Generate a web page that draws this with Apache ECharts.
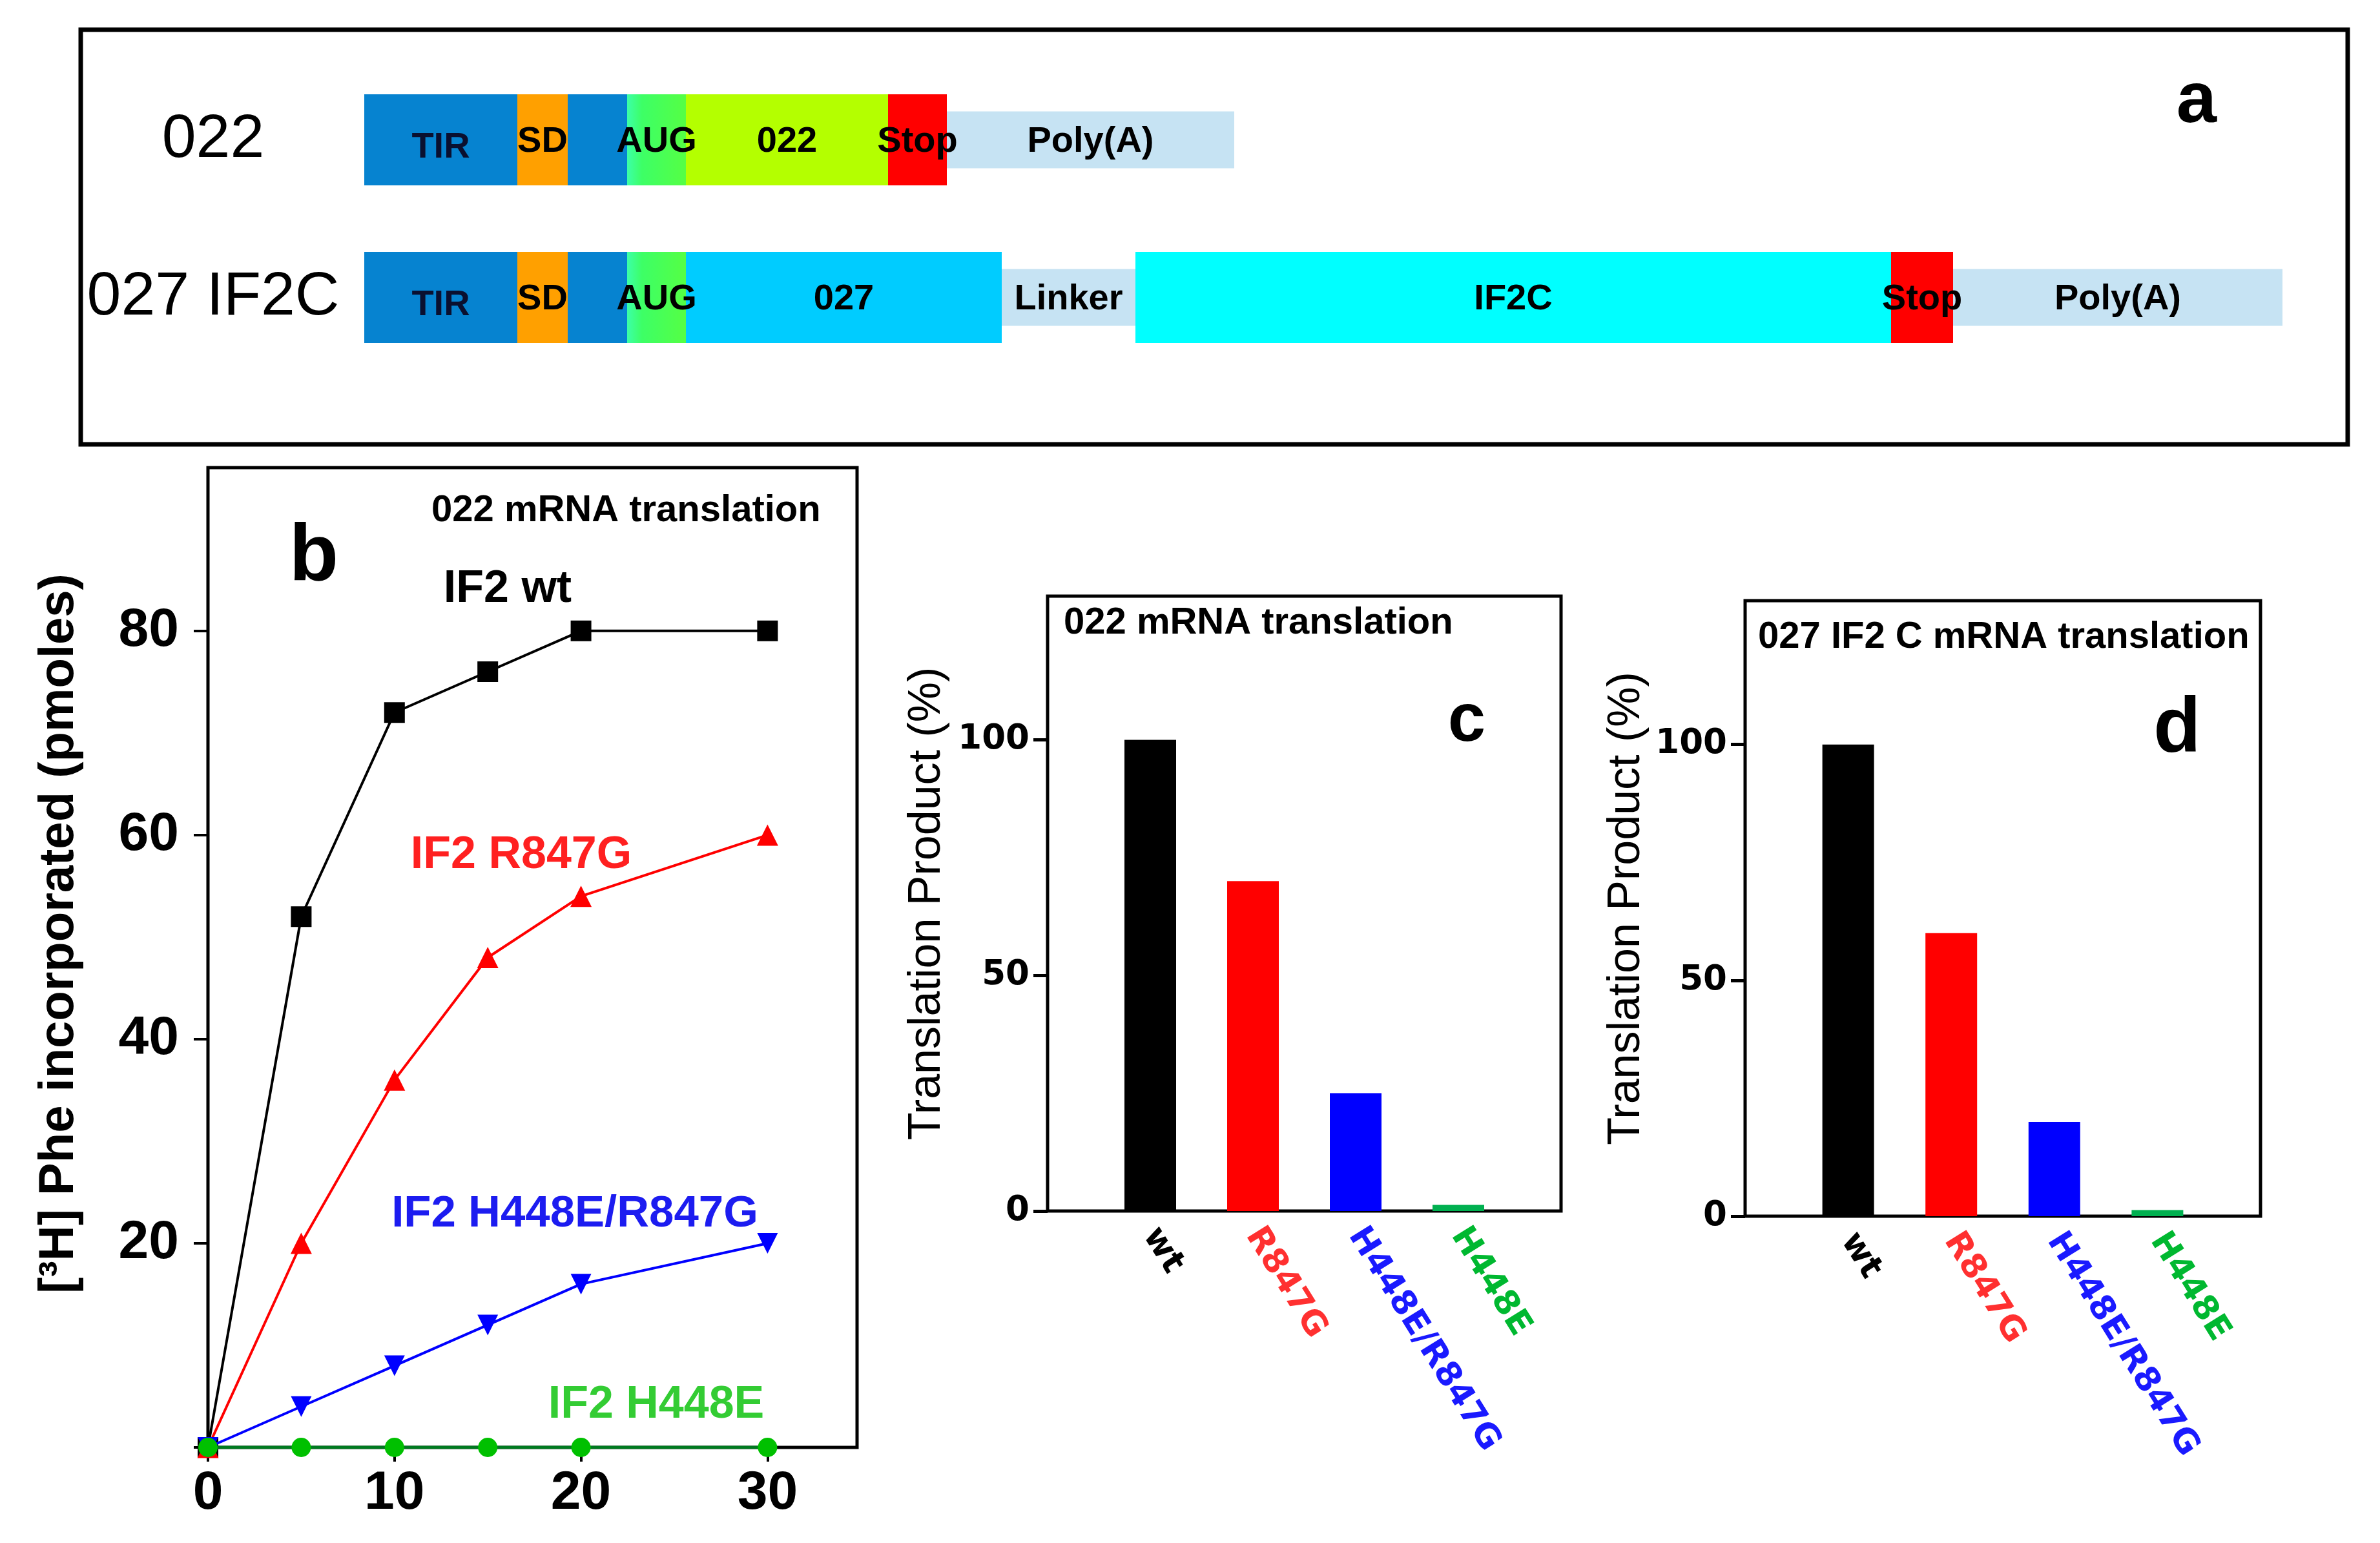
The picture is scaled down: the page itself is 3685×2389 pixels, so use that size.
<!DOCTYPE html>
<html><head><meta charset="utf-8">
<script src="https://cdn.jsdelivr.net/npm/echarts@6/dist/echarts.min.js"></script>
<style>html,body{margin:0;padding:0;background:#fff}#c{width:3685px;height:2389px}</style>
</head><body><div id="c"></div>
<script>
// ---------- Panel a: construct maps (relative segment lengths) ----------
const rowNames = ['022', '027 IF2C'];
const seg022Names = ['TIR', 'SD', '', 'AUG', '022', 'Stop', 'Poly(A)'];
const seg022Len = [237, 78, 92, 91, 313, 91, 445];
const seg027Names = ['TIR', 'SD', '', 'AUG', '027', 'Linker', 'IF2C', 'Stop', 'Poly(A)'];
const seg027Len = [237, 78, 92, 91, 489, 207, 1170, 96, 510];

// ---------- Panel b: time course ----------
const timeMin = [0, 5, 10, 15, 20, 30];
const pheWt = [0, 52, 72, 76, 80, 80];
const pheR847G = [0, 20, 36, 48, 54, 60];
const pheH448ER847G = [0, 4, 8, 12, 16, 20];
const pheH448E = [0, 0, 0, 0, 0, 0];
const bTicksX = [0, 10, 20, 30];
const bLabelsY = [20, 40, 60, 80];
const bTicksY = [0, 20, 40, 60, 80];

// ---------- Panels c, d: translation product ----------
const mutants = ['wt', 'R847G', 'H448E/R847G', 'H448E'];
const productC = [100, 70, 25, 1.3];
const productD = [100, 60, 20, 1.3];
const cdTicksY = [0, 50, 100];

const FONT = 'Liberation Sans, Arial, sans-serif';
const WIDE = 'DejaVu Sans, Verdana, sans-serif';

const segColors = {
  'TIR': '#0683D0', 'SD': '#FFA000', '': '#0683D0',
  'AUG': new echarts.graphic.LinearGradient(0, 0, 1, 0, [
    {offset: 0, color: '#3CFFA8'}, {offset: 0.25, color: '#3DFF66'}, {offset: 1, color: '#55FF44'}]),
  '022': '#B4FF00', '027': '#00CCFF', 'Linker': '#C6E3F3', 'IF2C': '#00FFFF',
  'Stop': '#FF0000', 'Poly(A)': '#C6E3F3'
};
const thinSegs = {'Linker': true, 'Poly(A)': true};

function buildSegs(row, names, lens) {
  let s = 0;
  return names.map((n, i) => { const it = {start: s, end: s + lens[i], row: row, name: n}; s += lens[i]; return it; });
}
const segs = buildSegs(0, seg022Names, seg022Len).concat(buildSegs(1, seg027Names, seg027Len));
const totalLen = seg027Len.reduce((a, b) => a + b, 0);

const mutantColorsBar = ['#000000', '#FF0000', '#0000FF', '#00B050'];
const mutantColorsLbl = ['#000000', '#FF3030', '#1A1AFF', '#00B830'];

function catData() {
  return [{value: '', textStyle: {color: '#000'}}]
    .concat(mutants.map((m, i) => ({value: m, textStyle: {color: mutantColorsLbl[i]}})))
    .concat([{value: ' ', textStyle: {color: '#000'}}]);
}
function barData(vals) {
  return ['-'].concat(vals.map((v, i) => ({value: v, itemStyle: {color: mutantColorsBar[i]}}))).concat(['-']);
}
function pairs(ys) { return timeMin.map((t, i) => [t, ys[i]]); }

function txt(text, x, y, size, color, weight, align) {
  return {type: 'text', z: 100, style: {text: text, x: x, y: y, fill: color, fontSize: size,
    fontWeight: weight || 'bold', fontFamily: FONT, align: align || 'center', textAlign: align || 'center',
    verticalAlign: 'middle', textVerticalAlign: 'middle'}};
}

const cdAxisX = (gi) => ({
  gridIndex: gi, type: 'category', data: catData(), boundaryGap: false,
  axisLine: {show: false}, axisTick: {show: false}, splitLine: {show: false},
  axisLabel: {interval: 0, rotate: -58, margin: 30, fontSize: 52, fontWeight: 'bold', fontFamily: WIDE}
});
const cdAxisY = (gi, gap) => ({
  gridIndex: gi, type: 'value', min: 0, max: 130.5, interval: 50,
  axisLine: {show: false}, splitLine: {show: false},
  axisTick: {show: true, length: 22, customValues: cdTicksY, lineStyle: {color: '#000', width: 5}},
  axisLabel: {customValues: cdTicksY, fontSize: 53, fontWeight: 'bold', fontFamily: WIDE, color: '#000', margin: 28},
  name: 'Translation Product (%)', nameLocation: 'middle', nameRotate: 90, nameGap: gap,
  nameTextStyle: {fontSize: 70, fontFamily: FONT, color: '#000'}
});

const chart = echarts.init(document.getElementById('c'), null, {renderer: 'canvas'});
chart.setOption({
  animation: false,
  backgroundColor: '#fff',
  grid: [
    {left: 564, top: 94.5, width: totalLen, height: 488},
    {left: 322, top: 724, width: 1005, height: 1517, show: true, borderColor: '#000', borderWidth: 5},
    {left: 1622, top: 923, width: 795, height: 952, show: true, borderColor: '#000', borderWidth: 5},
    {left: 2702, top: 930, width: 798, height: 953, show: true, borderColor: '#000', borderWidth: 5}
  ],
  xAxis: [
    {gridIndex: 0, type: 'value', min: 0, max: totalLen, show: false},
    {gridIndex: 1, type: 'value', min: 0, max: 34.8, interval: 10,
      axisLine: {show: false}, splitLine: {show: false},
      axisTick: {show: true, length: 22, customValues: bTicksX, lineStyle: {color: '#000', width: 4}},
      axisLabel: {customValues: bTicksX, fontSize: 84, fontWeight: 'bold', fontFamily: FONT, color: '#000', margin: 30}},
    cdAxisX(2), cdAxisX(3)
  ],
  yAxis: [
    {gridIndex: 0, type: 'category', data: rowNames, inverse: true,
      axisLine: {show: false}, axisTick: {show: false}, splitLine: {show: false},
      axisLabel: {fontSize: 95, color: '#000', fontFamily: FONT, align: 'center', margin: 234}},
    {gridIndex: 1, type: 'value', min: 0, max: 96, interval: 20,
      axisLine: {show: false}, splitLine: {show: false},
      axisTick: {show: true, length: 22, customValues: bTicksY, lineStyle: {color: '#000', width: 4}},
      axisLabel: {customValues: bLabelsY, fontSize: 84, fontWeight: 'bold', fontFamily: FONT, color: '#000', margin: 45},
      name: '[³H] Phe incorporated (pmoles)', nameLocation: 'middle', nameRotate: 90, nameGap: 192,
      nameTextStyle: {fontSize: 76, fontWeight: 'bold', fontFamily: FONT, color: '#000', padding: [0, 0, 0, 74]}},
    cdAxisY(2, 151), cdAxisY(3, 148)
  ],
  series: [
    {type: 'custom', xAxisIndex: 0, yAxisIndex: 0,
      data: segs.map(s => [s.start, s.end, s.row]),
      encode: {x: [0, 1], y: 2},
      renderItem: function (params, api) {
        const s = segs[params.dataIndex];
        const p0 = api.coord([api.value(0), api.value(2)]);
        const p1 = api.coord([api.value(1), api.value(2)]);
        const band = api.size([0, 1])[1];
        const h = band * (thinSegs[s.name] ? 0.36 : 0.578);
        const children = [{type: 'rect', shape: {x: p0[0], y: p0[1] - h / 2, width: p1[0] - p0[0], height: h},
          style: {fill: segColors[s.name]}}];
        if (s.name) {
          children.push({type: 'text', z2: 10, style: {text: s.name, x: (p0[0] + p1[0]) / 2,
            y: p0[1] + (s.name === 'TIR' ? 12 : 3), align: 'center', verticalAlign: 'middle',
            fontSize: 56, fontWeight: 'bold', fontFamily: FONT, fill: s.name === 'TIR' ? '#0A1030' : '#000'}});
        }
        return {type: 'group', children: children};
      }},
    {type: 'line', name: 'IF2 wt', xAxisIndex: 1, yAxisIndex: 1, data: pairs(pheWt),
      symbol: 'rect', symbolSize: 32, lineStyle: {color: '#000', width: 4}, itemStyle: {color: '#000'}, z: 3},
    {type: 'line', name: 'IF2 R847G', xAxisIndex: 1, yAxisIndex: 1, data: pairs(pheR847G),
      symbol: 'triangle', symbolSize: 33, lineStyle: {color: '#FF0000', width: 4}, itemStyle: {color: '#FF0000'}, z: 4},
    {type: 'line', name: 'IF2 H448E/R847G', xAxisIndex: 1, yAxisIndex: 1, data: pairs(pheH448ER847G),
      symbol: 'triangle', symbolRotate: 180, symbolSize: 32, lineStyle: {color: '#0000FF', width: 4}, itemStyle: {color: '#0000FF'}, z: 5},
    {type: 'line', name: 'IF2 H448E', xAxisIndex: 1, yAxisIndex: 1, data: pairs(pheH448E),
      symbol: 'circle', symbolSize: 30, lineStyle: {color: '#007A20', width: 5}, itemStyle: {color: '#00C000'}, z: 6},
    {type: 'bar', xAxisIndex: 2, yAxisIndex: 2, data: barData(productC), barWidth: 80},
    {type: 'bar', xAxisIndex: 3, yAxisIndex: 3, data: barData(productD), barWidth: 80}
  ],
  graphic: [
    {type: 'rect', z: 100, shape: {x: 125, y: 46, width: 3510, height: 642}, style: {fill: 'none', stroke: '#000', lineWidth: 7}},
    txt('a', 3401, 158, 112, '#000'),
    txt('b', 486, 864, 125, '#000'),
    txt('c', 2271, 1118, 105, '#000'),
    txt('d', 3371, 1131, 120, '#000'),
    txt('022 mRNA translation', 668, 791, 58, '#000', 'bold', 'left'),
    txt('022 mRNA translation', 1647, 965, 58, '#000', 'bold', 'left'),
    txt('027 IF2 C mRNA translation', 2722, 987, 58, '#000', 'bold', 'left'),
    txt('IF2 wt', 786, 913, 70, '#000'),
    txt('IF2 R847G', 807, 1325, 70, '#FF2020'),
    txt('IF2 H448E/R847G', 890, 1880, 69, '#1C1CF0'),
    txt('IF2 H448E', 1016, 2176, 70, '#33CC33')
  ]
});
</script></body></html>
